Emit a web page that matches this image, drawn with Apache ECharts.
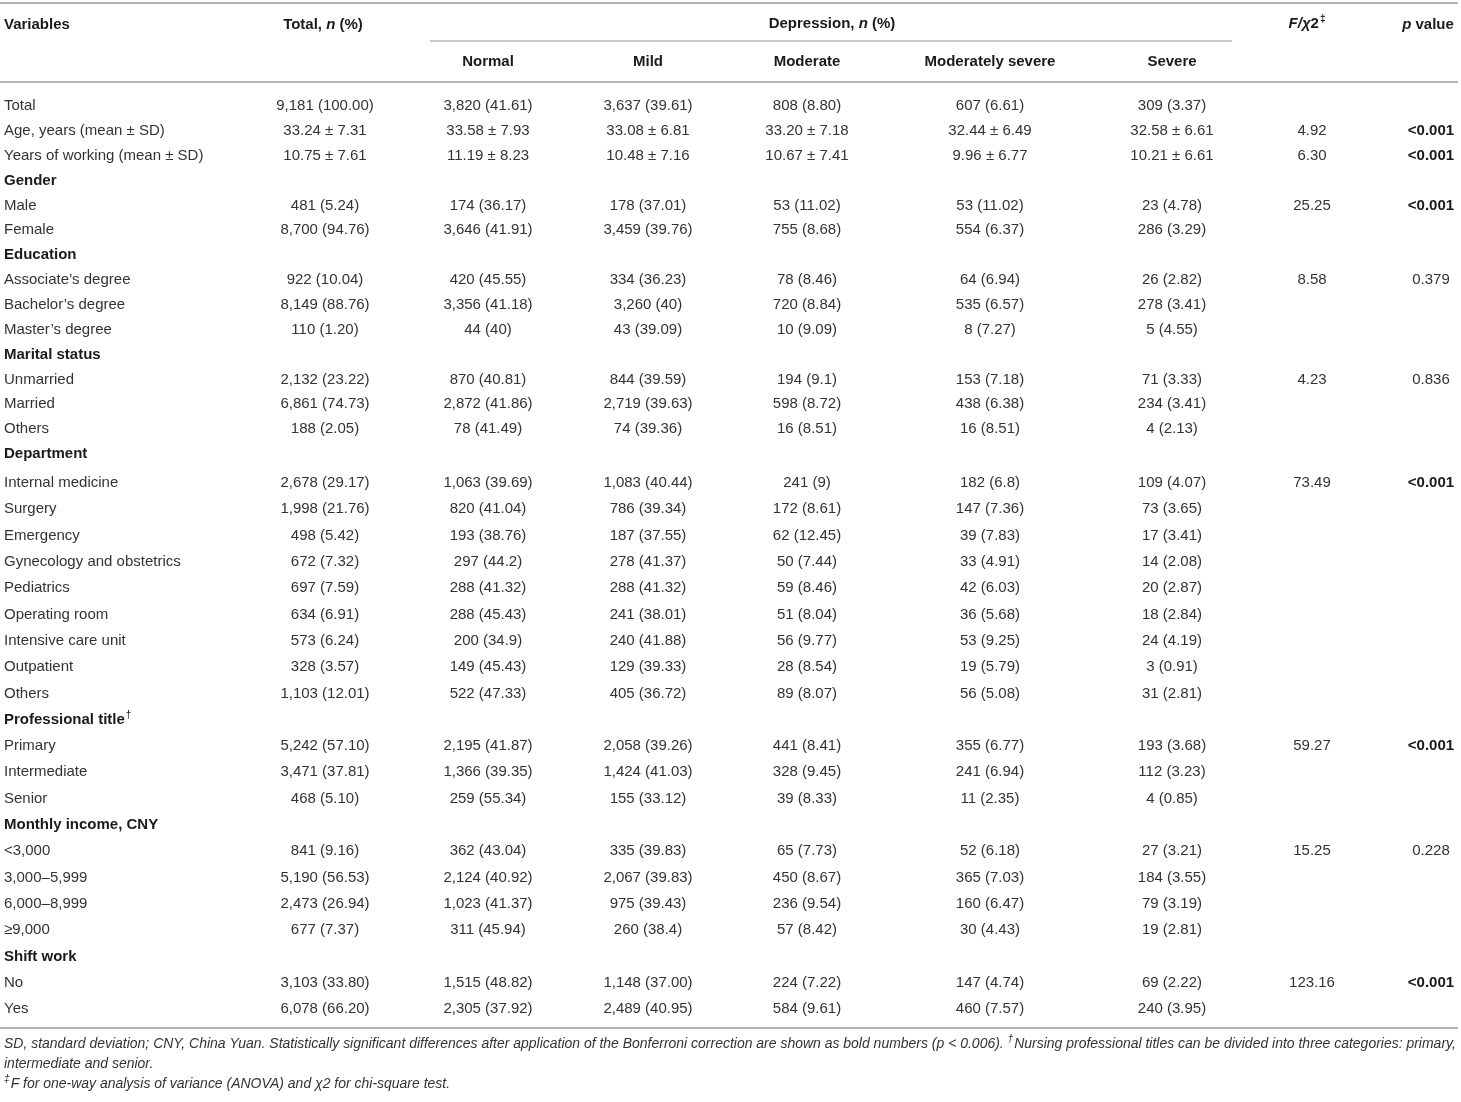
<!DOCTYPE html>
<html>
<head>
<meta charset="utf-8">
<title>Depression by nurse characteristics</title>
<script src="https://cdn.jsdelivr.net/npm/echarts@6/dist/echarts.min.js"></script>
<style>
  html, body { margin: 0; padding: 0; background: #fff; }
  #main { width: 1461px; height: 1102px; }
</style>
</head>
<body>
<div id="main"></div>
<script>
// first column
var rowLabels = [
  'Total', 'Age, years (mean ± SD)', 'Years of working (mean ± SD)',
  'Gender', 'Male', 'Female',
  'Education', 'Associate\u2019s degree', 'Bachelor\u2019s degree', 'Master\u2019s degree',
  'Marital status', 'Unmarried', 'Married', 'Others',
  'Department', 'Internal medicine', 'Surgery', 'Emergency', 'Gynecology and obstetrics',
  'Pediatrics', 'Operating room', 'Intensive care unit', 'Outpatient', 'Others',
  'Professional title†', 'Primary', 'Intermediate', 'Senior',
  'Monthly income, CNY', '<3,000', '3,000–5,999', '6,000–8,999', '≥9,000',
  'Shift work', 'No', 'Yes'
];
var sectionRows = ['Gender', 'Education', 'Marital status', 'Department',
  'Professional title†', 'Monthly income, CNY', 'Shift work'];

var totalCol = ['9,181 (100.00)', '33.24 ± 7.31', '10.75 ± 7.61',
  '', '481 (5.24)', '8,700 (94.76)',
  '', '922 (10.04)', '8,149 (88.76)', '110 (1.20)',
  '', '2,132 (23.22)', '6,861 (74.73)', '188 (2.05)',
  '', '2,678 (29.17)', '1,998 (21.76)', '498 (5.42)', '672 (7.32)', '697 (7.59)', '634 (6.91)', '573 (6.24)', '328 (3.57)', '1,103 (12.01)',
  '', '5,242 (57.10)', '3,471 (37.81)', '468 (5.10)',
  '', '841 (9.16)', '5,190 (56.53)', '2,473 (26.94)', '677 (7.37)',
  '', '3,103 (33.80)', '6,078 (66.20)'];
var normalCol = ['3,820 (41.61)', '33.58 ± 7.93', '11.19 ± 8.23',
  '', '174 (36.17)', '3,646 (41.91)',
  '', '420 (45.55)', '3,356 (41.18)', '44 (40)',
  '', '870 (40.81)', '2,872 (41.86)', '78 (41.49)',
  '', '1,063 (39.69)', '820 (41.04)', '193 (38.76)', '297 (44.2)', '288 (41.32)', '288 (45.43)', '200 (34.9)', '149 (45.43)', '522 (47.33)',
  '', '2,195 (41.87)', '1,366 (39.35)', '259 (55.34)',
  '', '362 (43.04)', '2,124 (40.92)', '1,023 (41.37)', '311 (45.94)',
  '', '1,515 (48.82)', '2,305 (37.92)'];
var mildCol = ['3,637 (39.61)', '33.08 ± 6.81', '10.48 ± 7.16',
  '', '178 (37.01)', '3,459 (39.76)',
  '', '334 (36.23)', '3,260 (40)', '43 (39.09)',
  '', '844 (39.59)', '2,719 (39.63)', '74 (39.36)',
  '', '1,083 (40.44)', '786 (39.34)', '187 (37.55)', '278 (41.37)', '288 (41.32)', '241 (38.01)', '240 (41.88)', '129 (39.33)', '405 (36.72)',
  '', '2,058 (39.26)', '1,424 (41.03)', '155 (33.12)',
  '', '335 (39.83)', '2,067 (39.83)', '975 (39.43)', '260 (38.4)',
  '', '1,148 (37.00)', '2,489 (40.95)'];
var moderateCol = ['808 (8.80)', '33.20 ± 7.18', '10.67 ± 7.41',
  '', '53 (11.02)', '755 (8.68)',
  '', '78 (8.46)', '720 (8.84)', '10 (9.09)',
  '', '194 (9.1)', '598 (8.72)', '16 (8.51)',
  '', '241 (9)', '172 (8.61)', '62 (12.45)', '50 (7.44)', '59 (8.46)', '51 (8.04)', '56 (9.77)', '28 (8.54)', '89 (8.07)',
  '', '441 (8.41)', '328 (9.45)', '39 (8.33)',
  '', '65 (7.73)', '450 (8.67)', '236 (9.54)', '57 (8.42)',
  '', '224 (7.22)', '584 (9.61)'];
var modSevereCol = ['607 (6.61)', '32.44 ± 6.49', '9.96 ± 6.77',
  '', '53 (11.02)', '554 (6.37)',
  '', '64 (6.94)', '535 (6.57)', '8 (7.27)',
  '', '153 (7.18)', '438 (6.38)', '16 (8.51)',
  '', '182 (6.8)', '147 (7.36)', '39 (7.83)', '33 (4.91)', '42 (6.03)', '36 (5.68)', '53 (9.25)', '19 (5.79)', '56 (5.08)',
  '', '355 (6.77)', '241 (6.94)', '11 (2.35)',
  '', '52 (6.18)', '365 (7.03)', '160 (6.47)', '30 (4.43)',
  '', '147 (4.74)', '460 (7.57)'];
var severeCol = ['309 (3.37)', '32.58 ± 6.61', '10.21 ± 6.61',
  '', '23 (4.78)', '286 (3.29)',
  '', '26 (2.82)', '278 (3.41)', '5 (4.55)',
  '', '71 (3.33)', '234 (3.41)', '4 (2.13)',
  '', '109 (4.07)', '73 (3.65)', '17 (3.41)', '14 (2.08)', '20 (2.87)', '18 (2.84)', '24 (4.19)', '3 (0.91)', '31 (2.81)',
  '', '193 (3.68)', '112 (3.23)', '4 (0.85)',
  '', '27 (3.21)', '184 (3.55)', '79 (3.19)', '19 (2.81)',
  '', '69 (2.22)', '240 (3.95)'];
var statCol = ['', '4.92', '6.30', '', '25.25', '', '', '8.58', '', '', '', '4.23', '', '',
  '', '73.49', '', '', '', '', '', '', '', '', '', '59.27', '', '', '', '15.25', '', '', '', '', '123.16', ''];
var pCol = ['', '<0.001', '<0.001', '', '<0.001', '', '', '0.379', '', '', '', '0.836', '', '',
  '', '<0.001', '', '', '', '', '', '', '', '', '', '<0.001', '', '', '', '0.228', '', '', '', '', '<0.001', ''];

var depressionLevels = ['Normal', 'Mild', 'Moderate', 'Moderately severe', 'Severe'];

var notes = [
  'SD, standard deviation; CNY, China Yuan. Statistically significant differences after application of the Bonferroni correction are shown as bold numbers (p < 0.006). †Nursing professional titles can be divided into three categories: primary,',
  'intermediate and senior.',
  '‡F for one-way analysis of variance (ANOVA) and χ2 for chi-square test.'
];

// layout
var columns = [totalCol, normalCol, mildCol, moderateCol, modSevereCol, severeCol, statCol, pCol];
var colX = [325, 488, 648, 807, 990, 1172, 1312, 1431];
var splitRow = 15;   // upper block rows are a bit tighter than the lower block
var FONT = "'Liberation Sans', Arial, sans-serif";
var TXT = '#333';
var DARK = '#1a1a1a';
var RULE = '#b4b4b4';

var myChart = echarts.init(document.getElementById('main'), null, { renderer: 'canvas' });

function labelFormatter(v) {
  if (sectionRows.indexOf(v) >= 0) {
    if (v.slice(-1) === '†') return '{b|' + v.slice(0, -1) + '}{sup|†}';
    return '{b|' + v + '}';
  }
  return v;
}

function makeRender(offset) {
  return function (params, api) {
    var r = api.value(1);
    var row = offset + r;
    var kids = [];
    for (var c = 0; c < columns.length; c++) {
      var t = columns[c][row];
      if (!t) continue;
      var pt = api.coord([colX[c], r]);
      var bold = (c === 7 && t.charAt(0) === '<');
      kids.push({
        type: 'text',
        x: pt[0], y: pt[1],
        style: {
          text: t, align: 'center', verticalAlign: 'middle',
          fontFamily: FONT, fontSize: 15, fontWeight: bold ? 'bold' : 'normal',
          fill: bold ? DARK : TXT
        }
      });
    }
    return { type: 'group', children: kids };
  };
}

function blockData(from, to) {
  var d = [];
  for (var i = from; i < to; i++) d.push([0, i - from]);
  return d;
}

var grids = [
  { left: 0, width: 1461, top: 93.6, height: 372.9 },
  { left: 0, width: 1461, top: 469.9, height: 552.3 }
];
var blocks = [[0, splitRow], [splitRow, rowLabels.length]];

var xAxes = [], yAxes = [], series = [];
blocks.forEach(function (b, i) {
  xAxes.push({ type: 'value', gridIndex: i, min: 0, max: 1461, show: false });
  yAxes.push({
    type: 'category', gridIndex: i, inverse: true,
    data: rowLabels.slice(b[0], b[1]),
    axisLine: { show: false }, axisTick: { show: false }, splitLine: { show: false },
    axisLabel: {
      interval: 0, margin: -4, align: 'left',
      fontFamily: FONT, fontSize: 15, color: TXT,
      formatter: labelFormatter,
      rich: {
        b: { fontFamily: FONT, fontSize: 15, fontWeight: 'bold', color: DARK },
        sup: { fontFamily: FONT, fontSize: 10, color: DARK, padding: [0, 0, 9, 1] }
      }
    }
  });
  series.push({
    type: 'custom', xAxisIndex: i, yAxisIndex: i,
    renderItem: makeRender(b[0]),
    data: blockData(b[0], b[1]),
    silent: true, animation: false
  });
});

function hText(x, y, text, align, rich) {
  return {
    type: 'text', x: x, y: y, silent: true,
    style: {
      text: text, align: align, verticalAlign: 'middle',
      fontFamily: FONT, fontSize: 15, fontWeight: 'bold', fill: DARK,
      rich: rich || {}
    }
  };
}
var hRich = {
  i: { fontFamily: FONT, fontSize: 15, fontWeight: 'bold', fontStyle: 'italic', fill: DARK },
  sup: { fontFamily: FONT, fontSize: 10, fontWeight: 'bold', fill: DARK, padding: [0, 0, 9, 1] }
};
var noteRich = {
  sup: { fontFamily: FONT, fontSize: 11, fontStyle: 'italic', fill: TXT, padding: [0, 1, 9, 0] }
};

var graphics = [
  { type: 'line', shape: { x1: 0, y1: 3, x2: 1458, y2: 3 }, style: { stroke: RULE, lineWidth: 2 } },
  { type: 'line', shape: { x1: 430, y1: 41, x2: 1232, y2: 41 }, style: { stroke: RULE, lineWidth: 1.5 } },
  { type: 'line', shape: { x1: 0, y1: 82, x2: 1458, y2: 82 }, style: { stroke: RULE, lineWidth: 2 } },
  { type: 'line', shape: { x1: 0, y1: 1028, x2: 1458, y2: 1028 }, style: { stroke: RULE, lineWidth: 2 } },
  hText(4, 25, 'Variables', 'left'),
  hText(323, 25, 'Total, {i|n} (%)', 'center', hRich),
  hText(832, 24, 'Depression, {i|n} (%)', 'center', hRich),
  hText(1307, 24, '{i|F/χ}2{sup|‡}', 'center', hRich),
  hText(1428, 25, '{i|p} value', 'center', hRich)
];
depressionLevels.forEach(function (name, k) {
  graphics.push(hText(colX[k + 1], 62, name, 'center'));
});

// footnotes: the face is a little narrower than ours, so squeeze line 1 to the table width
var mctx = document.createElement('canvas').getContext('2d');
function noteWidth(line) {
  mctx.font = 'italic 15px "Liberation Sans"';
  return mctx.measureText(line).width;
}
var noteLeft = 4, noteRight = 1457, noteY = [1043.5, 1063.5, 1083.5];
var noteSX = Math.min(1, (noteRight - noteLeft) / noteWidth(notes[0]));
notes.forEach(function (t, k) {
  graphics.push({
    type: 'text', x: noteLeft, y: noteY[k], scaleX: noteSX, silent: true,
    style: {
      text: t.replace(/([†‡])/g, '{sup|$1}'), align: 'left', verticalAlign: 'middle',
      fontFamily: FONT, fontSize: 15, fontStyle: 'italic', fill: TXT, rich: noteRich
    }
  });
});

var option = {
  backgroundColor: '#fff',
  animation: false,
  grid: grids,
  xAxis: xAxes,
  yAxis: yAxes,
  series: series,
  graphic: graphics
};

myChart.setOption(option);
</script>
</body>
</html>
